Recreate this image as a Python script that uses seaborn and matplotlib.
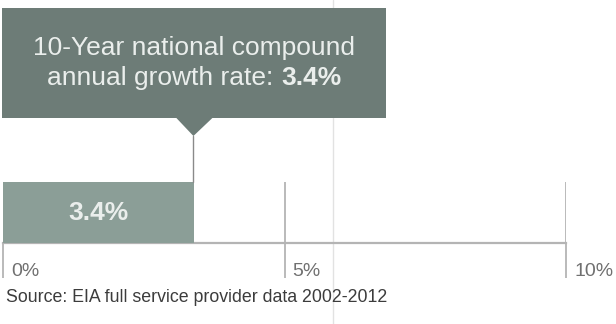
import matplotlib
matplotlib.use("Agg")
import matplotlib.pyplot as plt
import matplotlib.transforms as mtransforms
from matplotlib.patches import Rectangle, Polygon
from matplotlib.lines import Line2D
import seaborn as sns
import pandas as pd

# ---- data ----
categories = ["National"]
growth_rates = [3.4]
tick_values = [0, 5, 10]
tick_labels = ["0%", "5%", "10%"]
bar_labels = ["3.4%"]
callout_line1 = "10-Year national compound"
callout_line2 = "annual growth rate:"
callout_value = "3.4%"
source_text = "Source: EIA full service provider data 2002-2012"

# ---- style ----
sns.set_theme(style="white")
plt.rcParams["font.family"] = ["Liberation Sans", "DejaVu Sans"]

W, H = 616, 324
box_color = "#6d7c77"
bar_color = "#8b9e97"
light_text = "#eaeeec"
line_color = "#b4b4b4"

fig = plt.figure(figsize=(W / 100, H / 100), dpi=100)
fig.patch.set_facecolor("white")
ax = fig.add_axes([3 / W, 81 / H, 563 / W, 61 / H])
ax.set_facecolor("none")

df = pd.DataFrame({"category": categories, "rate": growth_rates})
sns.barplot(data=df, x="rate", y="category", orient="h", color=bar_color,
            saturation=1, width=1.0, errorbar=None, linewidth=0, ax=ax, zorder=3)
ax.set_xlim(0, 10)
ax.set_ylim(0.5, -0.5)
ax.set_xlabel("")
ax.set_ylabel("")
ax.set_yticks([])
ax.set_xticks(tick_values)
ax.set_axisbelow(True)
ax.xaxis.grid(True, color=line_color, linewidth=1.3)
ax.yaxis.grid(False)
ax.tick_params(axis="x", bottom=True, length=25, width=1.3, color=line_color,
               direction="out", labelbottom=False)
sns.despine(ax=ax, left=True, top=True, right=True, bottom=False)
ax.spines["bottom"].set_color(line_color)
ax.spines["bottom"].set_linewidth(1.6)

# tick labels
for v, lab in zip(tick_values, tick_labels):
    ax.annotate(lab, xy=(v, 0), xycoords=ax.get_xaxis_transform(),
                xytext=(8, -28), textcoords="offset pixels",
                ha="left", va="center", fontsize=14, color="#707070")

# bar label
for i, (v, lab) in enumerate(zip(growth_rates, bar_labels)):
    ax.text(v / 2, i, lab, ha="center", va="center", fontsize=19,
            fontweight="bold", color=light_text, zorder=5)

# ---- callout anchored to the value ----
ident = mtransforms.IdentityTransform()
cx = ax.transData.transform((growth_rates[0], 0))[0]
bar_top = ax.transAxes.transform((0, 1))[1]

box = Rectangle((cx - 192, H - 118), 384, 110, facecolor=box_color,
                edgecolor="none", transform=ident)
fig.add_artist(box)
tri = Polygon([(cx - 19, H - 118 + 1), (cx + 19, H - 118 + 1), (cx - 1, H - 136)],
              closed=True, facecolor=box_color, edgecolor="none", transform=ident)
fig.add_artist(tri)
fig.add_artist(Line2D([cx - 1, cx - 1], [H - 136, bar_top], color="#8a8a8a",
                      linewidth=1, transform=ident))

# scan fold line
fig.add_artist(Line2D([333, 333], [0, H], color="#e2e2e2", linewidth=1,
                      transform=ident, zorder=0))

fig.text(cx, H - 48, callout_line1, transform=ident, ha="center", va="center",
         fontsize=19, color=light_text)

renderer = fig.canvas.get_renderer()
t_reg = fig.text(0, H - 78, callout_line2, transform=ident, ha="left",
                 va="center", fontsize=19, color=light_text)
t_bold = fig.text(0, H - 78, callout_value, transform=ident, ha="left",
                  va="center", fontsize=19, fontweight="bold", color=light_text)
probe1 = fig.text(0, 0, "a b", fontsize=19, transform=ident)
probe2 = fig.text(0, 0, "ab", fontsize=19, transform=ident)
space_w = probe1.get_window_extent(renderer).width - probe2.get_window_extent(renderer).width
probe1.remove()
probe2.remove()
w_reg = t_reg.get_window_extent(renderer).width
w_bold = t_bold.get_window_extent(renderer).width
start = cx - (w_reg + space_w + w_bold) / 2
t_reg.set_x(start)
t_bold.set_x(start + w_reg + space_w)

# source
fig.text(6, H - 297, source_text, transform=ident, ha="left", va="center",
         fontsize=12.8, color="#3c3c3c")

fig.savefig("out.png", dpi=100, facecolor="white")
